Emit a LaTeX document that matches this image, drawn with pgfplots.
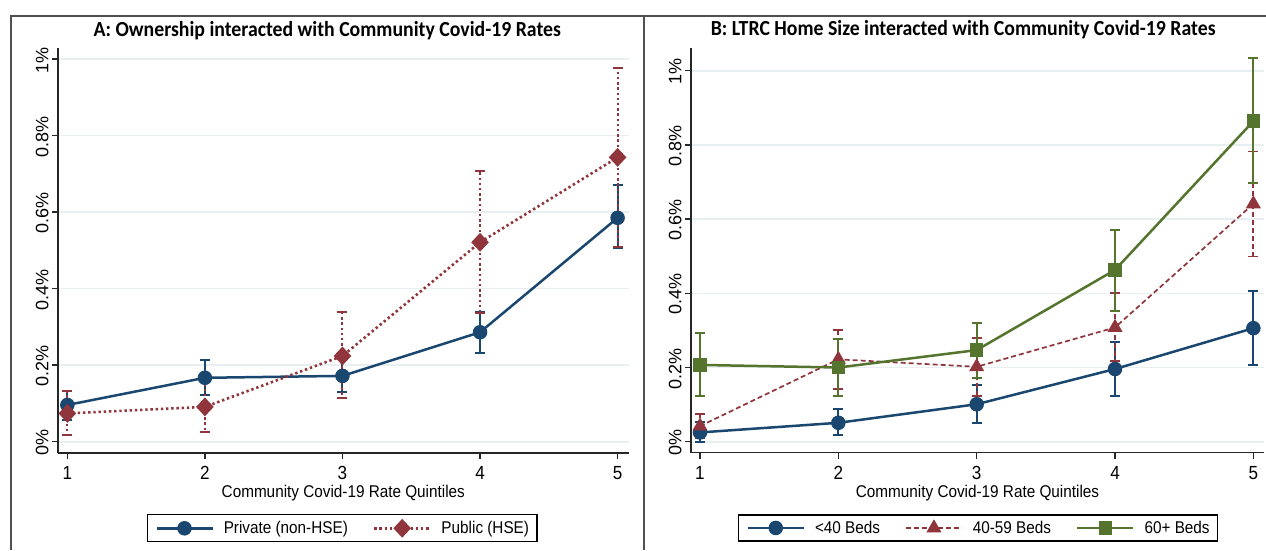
\documentclass[border=0pt]{standalone}
\usepackage{pgfplots}
\pgfplotsset{compat=1.18}
\usepackage{pgfplotstable}
\usepackage{fontspec}
\setmainfont{Liberation Sans}[FakeStretch=0.9]
\newfontfamily\yfont{Liberation Sans}
\newfontfamily\titlefont{Carlito}[FakeStretch=0.92]
\definecolor{snavy}{RGB}{26,71,111}
\definecolor{smaroon}{RGB}{144,53,59}
\definecolor{sgreen}{RGB}{85,117,47}
\definecolor{sgrid}{RGB}{232,239,241}
\definecolor{sframe}{RGB}{80,80,80}

\pgfplotstableread{
x y ep em
1 0.096 0.037 0.038
2 0.167 0.046 0.045
3 0.172 0.043 0.041
4 0.286 0.053 0.055
5 0.585 0.087 0.080
}\privA
\pgfplotstableread{
x y ep em
1 0.074 0.059 0.057
2 0.091 0.066 0.065
3 0.224 0.115 0.111
4 0.521 0.187 0.185
5 0.743 0.234 0.234
}\pubA
\pgfplotstableread{
x y ep em
1 0.025 0.029 0.025
2 0.051 0.036 0.033
3 0.101 0.052 0.051
4 0.196 0.074 0.072
5 0.306 0.101 0.099
}\smallB
\pgfplotstableread{
x y ep em
1 0.042 0.032 0.032
2 0.222 0.079 0.080
3 0.202 0.077 0.079
4 0.308 0.092 0.090
5 0.641 0.141 0.142
}\midB
\pgfplotstableread{
x y ep em
1 0.207 0.085 0.083
2 0.200 0.077 0.076
3 0.247 0.074 0.076
4 0.463 0.109 0.110
5 0.864 0.169 0.166
}\bigB

\pgfplotsset{
  stataaxis/.style={
    scale only axis,
    axis x line*=bottom, axis y line*=left,
    axis line style={line width=1.4pt, black!85, -},
    xtick={1,2,3,4,5}, xticklabels={1,2,3,4,5},
    ytick={0,0.2,0.4,0.6,0.8,1},
    yticklabels={0\%,0.2\%,0.4\%,0.6\%,0.8\%,1\%},
    tick align=outside, major tick length=6pt,
    tick style={line width=1.4pt, black!85},
    ymajorgrids, grid style={sgrid, line width=1.6pt},
    xticklabel style={font=\fontsize{19}{21}\selectfont, yshift=-4pt},
    yticklabel style={font=\yfont\fontsize{18}{20}\selectfont, rotate=90, anchor=south, xshift=-1pt},
    xlabel={Community Covid-19 Rate Quintiles},
    xlabel style={font=\fontsize{17}{20}\selectfont, at={(axis description cs:0.5,-0.1)}, anchor=center},
    legend style={draw=black, line width=1.4pt, font=\fontsize{17}{20}\selectfont,
      inner xsep=8pt, inner ysep=6pt, nodes={inner sep=0pt},
      /tikz/every odd column/.append style={column sep=10pt},
      /tikz/every even column/.append style={column sep=25pt}},
    legend columns=-1,
    legend image code/.code={\draw[mark repeat=2,mark phase=2,##1] plot coordinates {(0pt,0pt) (28pt,0pt) (56pt,0pt)};},
    /pgf/number format/assume math mode=true,
    clip=false,
  },
  ebar/.style={error bars/.cd, y dir=both, y explicit,
    error bar style={line width=#1},
    error mark options={rotate=90, mark size=5pt, line width=#1}},
  ebar/.default=2pt,
}

\begin{document}
\begin{tikzpicture}[x=1pt,y=1pt]
\path[use as bounding box, fill=white] (0,0) rectangle (1266,550);
\draw[sframe, line width=1.3pt] (11,0) -- (11,534) -- (1266,534);
\draw[sframe, line width=1.3pt] (644,0) -- (644,534);

\begin{axis}[stataaxis, at={(58pt,97pt)}, anchor=south west,
  width=570.6pt, height=404.7pt,
  xmin=0.932, xmax=5.08, ymin=-0.0295, ymax=1.028,
  title={\titlefont\bfseries A: Ownership interacted with Community Covid-19 Rates},
  title style={font=\fontsize{21.5}{23}\selectfont, at={(axis description cs:0.472,1.044)}, anchor=center, yshift=-6pt},
  legend style={at={(0.498,-0.186)}, anchor=center}]
\addplot[snavy, line width=2.5pt, mark=*, mark size=6pt, ebar] table[x=x,y=y,y error plus=ep,y error minus=em]{\privA};
\addlegendentry{Private (non-HSE)}
\addplot[smaroon, line width=2.6pt, dash pattern=on 2.4pt off 2.8pt, mark=diamond*, mark size=7.5pt,
  mark options={solid, xscale=1.25}, ebar=2pt] table[x=x,y=y,y error plus=ep,y error minus=em]{\pubA};
\addlegendentry{Public (HSE)}
\end{axis}

\begin{axis}[stataaxis, at={(691pt,97.3pt)}, anchor=south west,
  width=573pt, height=404.4pt,
  xmin=0.935, xmax=5.077, ymin=-0.0296, ymax=1.0604,
  title={\titlefont\bfseries B: LTRC Home Size interacted with Community Covid-19 Rates},
  title style={font=\fontsize{21.5}{23}\selectfont, at={(axis description cs:0.475,1.045)}, anchor=center, yshift=-6pt},
  legend style={at={(0.501,-0.186)}, anchor=center}]
\addplot[snavy, line width=2.5pt, mark=*, mark size=6pt, ebar] table[x=x,y=y,y error plus=ep,y error minus=em]{\smallB};
\addlegendentry{<40 Beds}
\addplot[smaroon, line width=1.7pt, dash pattern=on 5pt off 3pt, mark=triangle*, mark size=7pt,
  mark options={solid}, ebar=1.8pt] table[x=x,y=y,y error plus=ep,y error minus=em]{\midB};
\addlegendentry{40-59 Beds}
\addplot[sgreen, line width=2.5pt, mark=square*, mark size=5.5pt, ebar] table[x=x,y=y,y error plus=ep,y error minus=em]{\bigB};
\addlegendentry{60+ Beds}
\end{axis}
\end{tikzpicture}
\end{document}
